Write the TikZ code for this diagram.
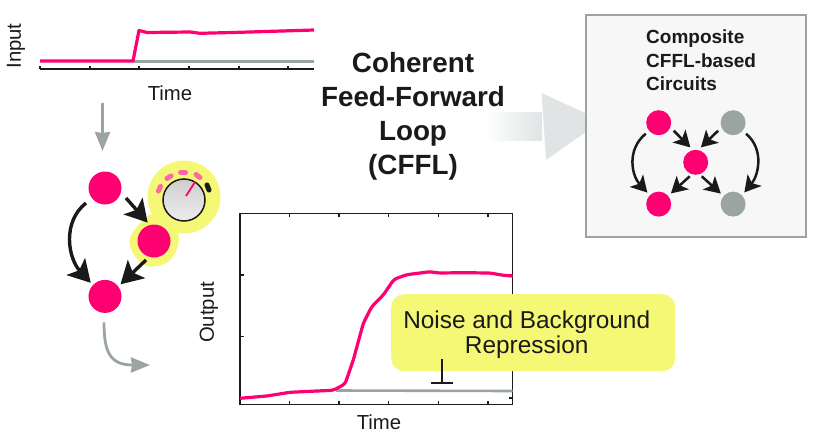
\documentclass[tikz,border=0pt]{standalone}
\usepackage{fontspec}
\setmainfont{Liberation Sans}
\usetikzlibrary{arrows.meta,positioning,calc}
\definecolor{hotpink}{HTML}{FE0072}
\definecolor{slategris}{HTML}{9AA5A3}
\definecolor{inkC}{HTML}{1A1A1A}
\definecolor{jauneC}{HTML}{F5F874}
\definecolor{boxC}{HTML}{F7F7F7}
\definecolor{paleC}{HTML}{E1E4E4}
\tikzset{
  gene/.style={circle, fill=#1, draw=none, minimum size=33pt, inner sep=0pt},
  minigene/.style={circle, fill=#1, draw=none, minimum size=25pt, inner sep=0pt},
  arr/.style={-{Stealth[length=22pt,width=25pt,inset=5pt]}, line width=3.4pt, draw=inkC, shorten >=3pt},
  miniarr/.style={-{Stealth[length=16pt,width=18pt,inset=4pt]}, line width=2.5pt, draw=inkC, shorten >=3.5pt},
  greyarr/.style={-{Stealth[length=19pt,width=15pt,inset=1pt]}, line width=2.8pt, draw=slategris},
  trace/.style={line width=#1, line join=round},
  axis/.style={line width=1.1pt, draw=inkC},
  lab/.style={font=\fontsize{20.3}{24}\selectfont, text=inkC, inner sep=0pt},
}
\begin{document}
\begin{tikzpicture}[x=1pt,y=-1pt]
  \useasboundingbox (0,0) rectangle (819,442);
  % input plot
  \draw[axis] (40,69) -- (314,69);
  \foreach \tx in {40,90,139,189,239,288}
    \draw[axis] (\tx,69) -- (\tx,65.5);
  \draw[trace=3.6pt, slategris] (133,61.5) -- (314,61.5);
  \draw[trace=3.2pt, hotpink] (40,61) -- (133,61) -- (139,30.5) -- (147,32.5) -- (190,32)
    -- (200,33.3) -- (240,32.3) -- (314,30);
  \node[lab, rotate=90] (inputlab) at (16,46) {Input};
  \node[lab] (timeA) at (170,93) {Time};
  \coordinate (feedA) at (102.5,103);
  \coordinate (feedB) at (102.5,151);
  \draw[greyarr] (feedA) -- (feedB);
  % yellow halo and dial
  \fill[jauneC] (184,197) circle (36.5);
  \fill[jauneC] (150,214) -- (178,232) -- (179,240)
    .. controls (178,252) and (171,263) .. (160,265.5)
    .. controls (152,267.5) and (143,267) .. (138,260)
    .. controls (131,252) and (127,243) .. (131,236)
    .. controls (133,229) and (142,222) .. (150,214) -- cycle;
  \shade[top color=gray!38, bottom color=gray!14, draw=inkC, line width=1.5pt]
    (184,200) circle (21);
  \foreach \px/\py/\qx/\qy in {158.5/191/160.5/186.5, 167/178.5/171/176, 180.5/172.5/185.5/172.5, 196/174.5/200/177.5}
    \draw[line width=5pt, draw=hotpink!60, line cap=round] (\px,\py) -- (\qx,\qy);
  \draw[line width=5pt, draw=inkC, line cap=round] (207,185) -- (209,190);
  \draw[line width=1.8pt, draw=hotpink] (186,196) -- (195,182);
  % main circuit
  \node[gene=hotpink] (g1) at (105,188) {};
  \node[gene=hotpink] (g2) at (154,241) {};
  \node[gene=hotpink, below=75pt of g1] (g3) {};
  \draw[arr] (g1) ++(-19,15) .. controls (62,222) and (68,258) .. (g3.137);
  \draw[arr] (g1) ++(21,10) -- (g2.105);
  \draw[arr] (g2) ++(-8,19) -- (g3.37);
  \draw[greyarr] (g3) ++(-1,26) .. controls (104,352) and (110,365) .. (150,365);
  % title
  \node[font=\bfseries\fontsize{27.8}{34}\selectfont, align=center, text=inkC, inner sep=0pt] (title)
    at (413,116.5) {Coherent\\Feed-Forward\\Loop\\(CFFL)};
  \shade[left color=white, right color=paleC]
    (485,112) rectangle (542,140);
  \fill[paleC] (541.7,93) -- (600,120) -- (600,122) -- (546,160) -- cycle;
  % composite box
  \node[rectangle, draw=slategris, fill=boxC, line width=1.6pt, minimum width=220pt,
        minimum height=222pt, inner sep=0pt, anchor=north west] (compbox) at (585,14) {};
  \node[font=\bfseries\fontsize{19}{23.5}\selectfont, align=left, text=inkC, inner sep=0pt,
        anchor=north west] (comptext) at (646,30) {Composite\\CFFL-based\\Circuits};
  \node[minigene=hotpink] (tl) at (658.7,122.7) {};
  \node[minigene=slategris, right=49pt of tl] (tr) {};
  \node[minigene=hotpink] (mid) at (695.7,162.3) {};
  \node[minigene=hotpink, below=56pt of tl] (bl) {};
  \node[minigene=slategris, below=56pt of tr] (br) {};
  \draw[miniarr] (tl) ++(15,8) -- (mid.103);
  \draw[miniarr] (tr) ++(-15,8) -- (mid.78);
  \draw[miniarr] (mid) ++(-6,14) -- (bl.41);
  \draw[miniarr] (mid) ++(6,14) -- (br.140);
  \draw[miniarr] (tl) ++(-13,11) .. controls (626,150) and (632,176) .. (bl.135);
  \draw[miniarr] (tr) ++(13,11) .. controls (765,150) and (758,176) .. (br.45);
  % output plot
  \draw[axis] (240,213.3) rectangle (512.7,404.7);
  \foreach \tx in {289.6,339,388.6,438.6,488}{
    \draw[axis] (\tx,404.7) -- (\tx,401);
    \draw[axis] (\tx,213.3) -- (\tx,217);
  }
  \foreach \ty in {275,336.7,398}{
    \draw[axis] (240,\ty) -- (243.5,\ty);
    \draw[axis] (512.7,\ty) -- (509.2,\ty);
  }
  \draw[trace=2.6pt, slategris] (336,390.5) -- (512.7,391);
  \draw[trace=3.2pt, hotpink, rounded corners=3pt] (240,398.3) -- (266.7,396) -- (290,392.3) -- (316.7,391)
    -- (333.3,390.3) -- (345,384) -- (353.3,360) -- (363.3,323.3) -- (371.7,306.7)
    -- (383.3,295) -- (394,279.3) -- (406.7,274.7) -- (430,271.7) -- (438.3,273)
    -- (463.3,272.7) -- (490,273) -- (503.3,275.3) -- (512.7,276);
  \node[lab, rotate=90] (outputlab) at (209,312.5) {Output};
  \node[lab] (timeB) at (379,422) {Time};
  % annotation
  \node[rectangle, rounded corners=13pt, fill=jauneC, minimum width=284pt, minimum height=77pt,
        inner sep=0pt, anchor=north west] (noise) at (391,294) {};
  \node[font=\fontsize{24.4}{25.3}\selectfont, align=center, text=inkC, inner sep=0pt]
    (noisetext) at (526.7,334.5) {Noise and Background\\Repression};
  \coordinate (repA) at (442.3,359.3);
  \coordinate (repB) at (442.3,383.5);
  \draw[{Bar[width=22pt,length=0pt]}-, line width=2pt, draw=inkC] (repB) -- (repA);
\end{tikzpicture}
\end{document}
